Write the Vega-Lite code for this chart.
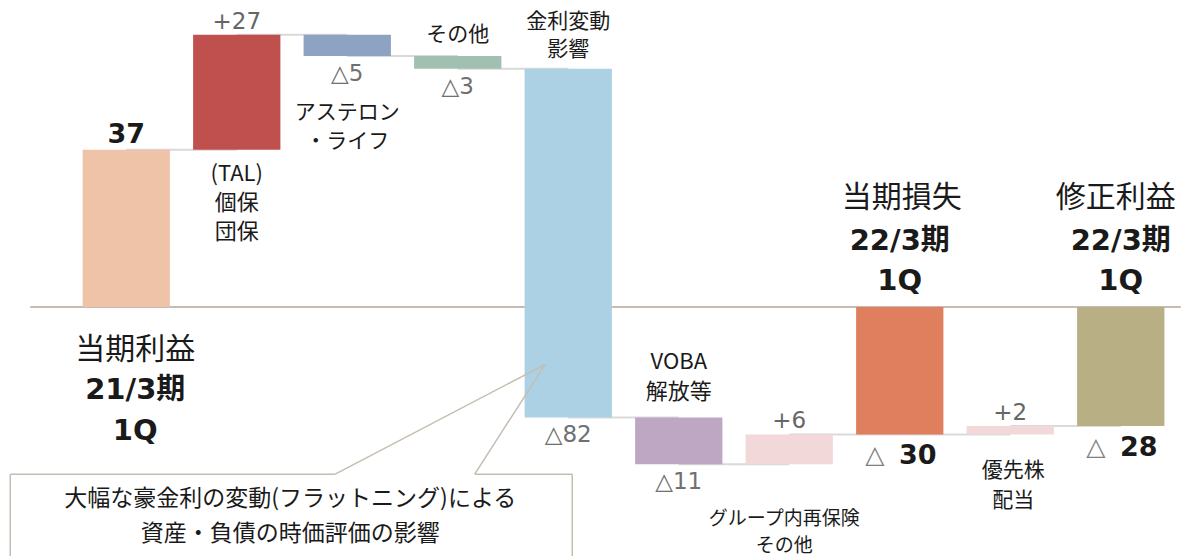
{
  "$schema": "https://vega.github.io/schema/vega-lite/v6.json",
  "width": 1188,
  "height": 557,
  "padding": 0,
  "autosize": {"type": "fit", "contains": "padding"},
  "background": "white",
  "config": {"view": {"stroke": null}},
  "datasets": {
    "bars": [
      {"id": "当期利益21/3期1Q", "start": 0, "end": 37, "next": "TAL", "vlabel": "37"},
      {"id": "TAL", "start": 37, "end": 64, "next": "アステロン・ライフ", "vlabel": "+27"},
      {"id": "アステロン・ライフ", "start": 64, "end": 59, "next": "その他", "vlabel": "△5"},
      {"id": "その他", "start": 59, "end": 56, "next": "金利変動影響", "vlabel": "△3"},
      {"id": "金利変動影響", "start": 56, "end": -26, "next": "VOBA解放等", "vlabel": "△82"},
      {"id": "VOBA解放等", "start": -26, "end": -37, "next": "グループ内再保険その他", "vlabel": "△11"},
      {"id": "グループ内再保険その他", "start": -37, "end": -30, "next": "当期損失22/3期1Q", "vlabel": "+6"},
      {"id": "当期損失22/3期1Q", "start": 0, "end": -30, "next": "優先株配当", "vlabel": "30"},
      {"id": "優先株配当", "start": -30, "end": -28, "next": "修正利益22/3期1Q", "vlabel": "+2"},
      {"id": "修正利益22/3期1Q", "start": 0, "end": -28, "next": null, "vlabel": "28"}
    ]
  },
  "data": {"name": "bars"},
  "encoding": {
    "x": {
      "field": "id", "type": "nominal", "sort": null, "axis": null,
      "scale": {
        "type": "band",
        "domain": ["当期利益21/3期1Q", "TAL", "アステロン・ライフ", "その他", "金利変動影響", "VOBA解放等", "グループ内再保険その他", "当期損失22/3期1Q", "優先株配当", "修正利益22/3期1Q"],
        "range": [71, 1176],
        "paddingInner": 0.21,
        "paddingOuter": 0.105
      }
    }
  },
  "layer": [
    {
      "transform": [{"filter": "datum.next != null"}],
      "mark": {"type": "rule", "color": "#D9D9D9", "strokeWidth": 2},
      "encoding": {
        "x2": {"field": "next"},
        "y": {"field": "end", "type": "quantitative", "axis": null, "scale": {"domain": [-58.6, 72.2], "nice": false, "zero": false}}
      }
    },
    {
      "data": {"values": [{}]},
      "mark": {"type": "rule", "color": "#C5BDB1", "strokeWidth": 2, "xOffset": -96, "x2Offset": 60},
      "encoding": {
        "x": {"datum": "当期利益21/3期1Q", "type": "nominal"},
        "x2": {"datum": "修正利益22/3期1Q"},
        "y": {"datum": 0, "type": "quantitative"}
      }
    },
    {
      "mark": {"type": "bar"},
      "encoding": {
        "y": {"field": "start", "type": "quantitative"},
        "y2": {"field": "end"},
        "color": {
          "field": "id", "type": "nominal", "legend": null,
          "scale": {
            "domain": ["当期利益21/3期1Q", "TAL", "アステロン・ライフ", "その他", "金利変動影響", "VOBA解放等", "グループ内再保険その他", "当期損失22/3期1Q", "優先株配当", "修正利益22/3期1Q"],
            "range": ["#EFC3A7", "#C0504D", "#8DA3C1", "#A2C0B1", "#ACD1E4", "#BDA7C3", "#F2D8D8", "#E07F5E", "#F2D8D8", "#B8AF85"]
          }
        }
      }
    },
    {
      "transform": [{"filter": "datum.start != 0 && datum.end > datum.start"}],
      "mark": {"type": "text", "font": "DejaVu Sans", "fontSize": 23, "color": "#666666", "baseline": "middle", "dy": -13},
      "encoding": {"y": {"field": "end", "type": "quantitative"}, "text": {"field": "vlabel"}}
    },
    {
      "transform": [{"filter": "datum.start != 0 && datum.end < datum.start"}],
      "mark": {"type": "text", "font": "DejaVu Sans", "fontSize": 23, "color": "#707070", "baseline": "middle", "dy": 18},
      "encoding": {"y": {"field": "end", "type": "quantitative"}, "text": {"field": "vlabel"}}
    },
    {
      "transform": [{"filter": "datum.start == 0 && datum.end > 0"}],
      "mark": {"type": "text", "font": "DejaVu Sans", "fontWeight": "bold", "fontSize": 27, "color": "#1A1A1A", "baseline": "middle", "dy": -15},
      "encoding": {"y": {"field": "end", "type": "quantitative"}, "text": {"field": "vlabel"}}
    },
    {
      "transform": [{"filter": "datum.start == 0 && datum.end < 0"}],
      "mark": {"type": "text", "font": "DejaVu Sans", "fontWeight": "bold", "fontSize": 27, "color": "#1A1A1A", "baseline": "middle", "dy": 22, "dx": 18},
      "encoding": {"y": {"field": "end", "type": "quantitative"}, "text": {"field": "vlabel"}}
    },
    {
      "transform": [{"filter": "datum.start == 0 && datum.end < 0"}],
      "mark": {"type": "text", "font": "DejaVu Sans", "fontSize": 25, "color": "#808080", "baseline": "middle", "dy": 21, "dx": -25},
      "encoding": {"y": {"field": "end", "type": "quantitative"}, "text": {"value": "△"}}
    },
    {
      "transform": [{"filter": "datum.id == 'TAL'"}],
      "mark": {"type": "text", "font": "Noto Sans CJK JP", "fontSize": 22, "color": "#1A1A1A", "baseline": "top", "dy": 14, "lineHeight": 29},
      "encoding": {"y": {"field": "start", "type": "quantitative"}, "text": {"value": ["(TAL)", "個保", "団保"]}}
    },
    {
      "transform": [{"filter": "datum.id == 'アステロン・ライフ'"}],
      "mark": {"type": "text", "font": "Noto Sans CJK JP", "fontSize": 21, "color": "#1A1A1A", "baseline": "top", "dy": 46, "lineHeight": 29},
      "encoding": {"y": {"field": "end", "type": "quantitative"}, "text": {"value": ["アステロン", "・ライフ"]}}
    },
    {
      "transform": [{"filter": "datum.id == 'その他'"}],
      "mark": {"type": "text", "font": "Noto Sans CJK JP", "fontSize": 21, "color": "#1A1A1A", "baseline": "top", "dy": -32},
      "encoding": {"y": {"field": "start", "type": "quantitative"}, "text": {"value": "その他"}}
    },
    {
      "transform": [{"filter": "datum.id == '金利変動影響'"}],
      "mark": {"type": "text", "font": "Noto Sans CJK JP", "fontSize": 21, "color": "#1A1A1A", "baseline": "top", "dy": -58, "lineHeight": 28},
      "encoding": {"y": {"field": "start", "type": "quantitative"}, "text": {"value": ["金利変動", "影響"]}}
    },
    {
      "transform": [{"filter": "datum.id == 'VOBA解放等'"}],
      "mark": {"type": "text", "font": "Noto Sans CJK JP", "fontSize": 22, "color": "#1A1A1A", "baseline": "top", "dy": -65, "lineHeight": 30},
      "encoding": {"y": {"field": "start", "type": "quantitative"}, "text": {"value": ["VOBA", "解放等"]}}
    },
    {
      "transform": [{"filter": "datum.id == 'グループ内再保険その他'"}],
      "mark": {"type": "text", "font": "Noto Sans CJK JP", "fontSize": 19, "color": "#1A1A1A", "baseline": "top", "dy": 46, "dx": -5, "lineHeight": 27},
      "encoding": {"y": {"field": "start", "type": "quantitative"}, "text": {"value": ["グループ内再保険", "その他"]}}
    },
    {
      "transform": [{"filter": "datum.id == '優先株配当'"}],
      "mark": {"type": "text", "font": "Noto Sans CJK JP", "fontSize": 21, "color": "#1A1A1A", "baseline": "top", "dy": 26, "dx": 3, "lineHeight": 30},
      "encoding": {"y": {"field": "start", "type": "quantitative"}, "text": {"value": ["優先株", "配当"]}}
    },
    {
      "transform": [{"filter": "datum.id == '当期利益21/3期1Q'"}],
      "mark": {"type": "text", "font": "Noto Sans CJK JP", "fontSize": 30, "color": "#1A1A1A", "baseline": "top", "dy": 28, "dx": 9},
      "encoding": {"y": {"field": "start", "type": "quantitative"}, "text": {"value": "当期利益"}}
    },
    {
      "transform": [{"filter": "datum.id == '当期利益21/3期1Q'"}],
      "mark": {"type": "text", "font": "DejaVu Sans, Noto Sans CJK JP", "fontWeight": "bold", "fontSize": 29, "color": "#1A1A1A", "baseline": "top", "dy": 69, "dx": 9, "lineHeight": 41},
      "encoding": {"y": {"field": "start", "type": "quantitative"}, "text": {"value": ["21/3期", "1Q"]}}
    },
    {
      "transform": [{"filter": "datum.id == '当期損失22/3期1Q'"}],
      "mark": {"type": "text", "font": "Noto Sans CJK JP", "fontSize": 30, "color": "#1A1A1A", "baseline": "top", "dy": -124, "dx": 2},
      "encoding": {"y": {"field": "start", "type": "quantitative"}, "text": {"value": "当期損失"}}
    },
    {
      "transform": [{"filter": "datum.id == '修正利益22/3期1Q'"}],
      "mark": {"type": "text", "font": "Noto Sans CJK JP", "fontSize": 30, "color": "#1A1A1A", "baseline": "top", "dy": -124, "dx": -5},
      "encoding": {"y": {"field": "start", "type": "quantitative"}, "text": {"value": "修正利益"}}
    },
    {
      "transform": [{"filter": "datum.start == 0 && datum.end < 0"}],
      "mark": {"type": "text", "font": "DejaVu Sans, Noto Sans CJK JP", "fontWeight": "bold", "fontSize": 29, "color": "#1A1A1A", "baseline": "top", "dy": -80, "lineHeight": 40},
      "encoding": {"y": {"field": "start", "type": "quantitative"}, "text": {"value": ["22/3期", "1Q"]}}
    },
    {
      "data": {"values": [{}]},
      "mark": {"type": "rule", "color": "#C5BDB1", "strokeWidth": 1.5, "xOffset": -116},
      "encoding": {
        "x": {"datum": "当期利益21/3期1Q", "type": "nominal"},
        "y": {"datum": -39.35, "type": "quantitative"},
        "y2": {"datum": -58.6}
      }
    },
    {
      "data": {"values": [{}]},
      "mark": {"type": "rule", "color": "#C5BDB1", "strokeWidth": 1.5, "xOffset": 4},
      "encoding": {
        "x": {"datum": "金利変動影響", "type": "nominal"},
        "y": {"datum": -39.35, "type": "quantitative"},
        "y2": {"datum": -58.6}
      }
    },
    {
      "data": {"values": [{}]},
      "mark": {"type": "rule", "color": "#C5BDB1", "strokeWidth": 1.5, "xOffset": -116, "x2Offset": -12},
      "encoding": {
        "x": {"datum": "当期利益21/3期1Q", "type": "nominal"},
        "x2": {"datum": "アステロン・ライフ"},
        "y": {"datum": -39.35, "type": "quantitative"}
      }
    },
    {
      "data": {"values": [{}]},
      "mark": {"type": "rule", "color": "#C5BDB1", "strokeWidth": 1.5, "xOffset": 17, "x2Offset": 4},
      "encoding": {
        "x": {"datum": "その他", "type": "nominal"},
        "x2": {"datum": "金利変動影響"},
        "y": {"datum": -39.35, "type": "quantitative"}
      }
    },
    {
      "data": {"values": [{}]},
      "mark": {"type": "rule", "color": "#C5BDB1", "strokeWidth": 1.5, "xOffset": -12, "x2Offset": -23},
      "encoding": {
        "x": {"datum": "アステロン・ライフ", "type": "nominal"},
        "x2": {"datum": "金利変動影響"},
        "y": {"datum": -39.35, "type": "quantitative"},
        "y2": {"datum": -13.5}
      }
    },
    {
      "data": {"values": [{}]},
      "mark": {"type": "rule", "color": "#C5BDB1", "strokeWidth": 1.5, "xOffset": 17, "x2Offset": -23},
      "encoding": {
        "x": {"datum": "その他", "type": "nominal"},
        "x2": {"datum": "金利変動影響"},
        "y": {"datum": -39.35, "type": "quantitative"},
        "y2": {"datum": -13.5}
      }
    },
    {
      "data": {"values": [{}]},
      "mark": {"type": "text", "font": "Noto Sans CJK JP", "fontSize": 23, "color": "#1A1A1A", "baseline": "top", "dy": -10, "dx": -57, "lineHeight": 35},
      "encoding": {
        "x": {"datum": "アステロン・ライフ", "type": "nominal"},
        "y": {"datum": -45, "type": "quantitative"},
        "text": {"value": ["大幅な豪金利の変動(フラットニング)による", "資産・負債の時価評価の影響"]}
      }
    }
  ]
}
